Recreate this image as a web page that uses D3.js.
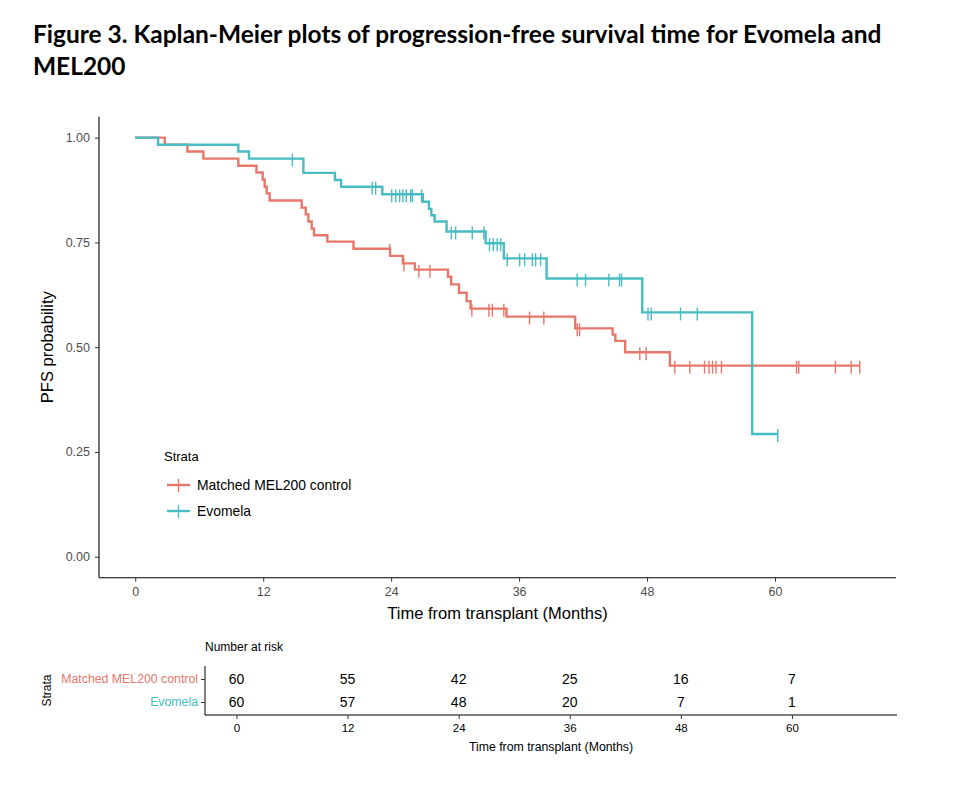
<html>
<head>
<style>
  body { margin: 0; background: #ffffff; }
  svg { display: block; }
  text { font-family: "Liberation Sans", Arial, sans-serif; }
</style>
<script src="https://cdn.jsdelivr.net/npm/d3@7"></script>
</head>
<body>
<svg id="km"></svg>
<script>
// ---- data ----
const strata = ["Matched MEL200 control", "Evomela"];

// Matched MEL200 control: step times (months) and survival after each step
const melTimes = [0, 2.77, 4.9, 6.39, 9.67, 11.37, 11.95, 12.14, 12.33, 12.61, 15.61, 15.99, 16.24, 16.55, 16.77,
  18.02, 20.47, 23.9, 25.1, 26.23, 29.33, 29.63, 30.36, 31.08, 31.45, 34.82, 41.26, 44.77, 45.03, 45.95, 50.14];
const melSurv = [1, 0.983, 0.967, 0.95, 0.933, 0.917, 0.9, 0.883, 0.867, 0.85, 0.833, 0.817, 0.8, 0.783, 0.767,
  0.752, 0.735, 0.718, 0.7, 0.685, 0.668, 0.65, 0.63, 0.61, 0.592, 0.573, 0.545, 0.53, 0.515, 0.488, 0.456];
const melCensor = [23.87, 25.2, 26.6, 27.64, 31.57, 33.17, 33.49, 34.57, 36.98, 38.32, 41.45, 41.67, 47.32, 47.92,
  50.6, 52.01, 53.39, 53.81, 54.14, 54.47, 54.98, 62.02, 62.23, 65.67, 67.14, 67.95];

// Evomela
const evoTimes = [0, 2.14, 9.67, 10.67, 15.77, 18.73, 19.31, 23.17, 26.98, 27.54, 27.77, 28.08, 29.2, 32.86, 34.57,
  38.58, 47.55, 57.86];
const evoSurv = [1, 0.983, 0.967, 0.95, 0.916, 0.899, 0.883, 0.865, 0.847, 0.83, 0.815, 0.8, 0.776, 0.748, 0.712,
  0.664, 0.583, 0.293];
const evoCensor = [14.74, 22.22, 22.55, 24.05, 24.43, 24.8, 25.1, 25.42, 25.83, 25.99, 26.86, 29.64, 30.05, 31.61,
  32.7, 33.23, 33.58, 33.95, 34.27, 34.89, 36.05, 36.52, 37.24, 37.55, 38.02, 41.45, 42.23, 44.42, 45.42, 45.61,
  48.09, 48.39, 51.14, 52.71, 60.26];

const xTicks = [0, 12, 24, 36, 48, 60];
const yTicks = [0, 0.25, 0.5, 0.75, 1];
const riskMel = [60, 55, 42, 25, 16, 7];
const riskEvo = [60, 57, 48, 20, 7, 1];

const colMel = "#E8776B";
const colEvo = "#47BCC2";

// ---- layout ----
const W = 962, H = 810;
const svg = d3.select("#km").attr("width", W).attr("height", H);
svg.append("rect").attr("width", W).attr("height", H).attr("fill", "#fff");

// title
const t1 = svg.append("text").attr("x", 33).attr("y", 43)
  .style("font-family", "Lato, 'Open Sans', sans-serif").style("font-weight", 700)
  .style("font-size", "24px").attr("fill", "#000")
  .text("Figure 3. Kaplan-Meier plots of progression-free survival time for Evomela and");
const fs = 24 * 849 / t1.node().getComputedTextLength();
t1.style("font-size", fs + "px");
svg.append("text").attr("x", 33).attr("y", 75)
  .style("font-family", "Lato, 'Open Sans', sans-serif").style("font-weight", 700)
  .style("font-size", fs + "px").attr("fill", "#000").text("MEL200");

// x domain like ggplot: data range plus 5% each side
const xMax = d3.max(melCensor.concat(evoCensor));
const pad = xMax * 0.05;
const xDom = [-pad, xMax + pad];

const plot = { left: 99, right: 896, top: 116.7, bottom: 577.7 };
const x = d3.scaleLinear().domain(xDom).range([plot.left, plot.right]);
const y = d3.scaleLinear().domain([-0.05, 1.05]).range([plot.bottom, plot.top]);

// axes
const gx = svg.append("g").attr("transform", `translate(0,${plot.bottom})`)
  .call(d3.axisBottom(x).tickValues(xTicks).tickSize(4).tickPadding(5).tickSizeOuter(0));
const gy = svg.append("g").attr("transform", `translate(${plot.left},0)`)
  .call(d3.axisLeft(y).tickValues(yTicks).tickFormat(d3.format(".2f")).tickSize(4).tickPadding(5).tickSizeOuter(0));
[gx, gy].forEach(g => {
  g.select(".domain").attr("stroke", "#000").attr("stroke-width", 1.1);
  g.selectAll(".tick line").attr("stroke", "#333");
  g.selectAll(".tick text").attr("fill", "#4d4d4d").style("font-size", "12.5px");
});
gx.select(".domain").attr("d", `M${plot.left},0H${plot.right}`);
gy.select(".domain").attr("d", `M0,${plot.top}V${plot.bottom}`);

svg.append("text").attr("x", (plot.left + plot.right) / 2).attr("y", 619)
  .attr("text-anchor", "middle").style("font-size", "16.5px").attr("fill", "#000")
  .text("Time from transplant (Months)");
svg.append("text").attr("transform", `translate(53,${y(0.5)}) rotate(-90)`)
  .attr("text-anchor", "middle").style("font-size", "16.5px").attr("fill", "#000")
  .text("PFS probability");

// curves
function survAt(times, surv, t) {
  let s = surv[0];
  for (let i = 0; i < times.length; i++) if (times[i] <= t) s = surv[i];
  return s;
}
const line = d3.line().x(d => x(d[0])).y(d => y(d[1])).curve(d3.curveStepAfter);

function drawCurve(times, surv, censor, col) {
  const pts = times.map((t, i) => [t, surv[i]]);
  pts.push([d3.max(censor.concat(times)), surv[surv.length - 1]]);
  svg.append("path").datum(pts).attr("d", line)
    .attr("fill", "none").attr("stroke", col).attr("stroke-width", 2.4);
  svg.append("g").selectAll("line").data(censor).join("line")
    .attr("x1", d => x(d)).attr("x2", d => x(d))
    .attr("y1", d => y(survAt(times, surv, d)) - 5)
    .attr("y2", d => y(survAt(times, surv, d)) + 8)
    .attr("stroke", col).attr("stroke-width", 1.4);
}
drawCurve(melTimes, melSurv, melCensor, colMel);
drawCurve(evoTimes, evoSurv, evoCensor, colEvo);

// legend
const leg = svg.append("g").attr("transform", "translate(164,0)");
leg.append("text").attr("x", 0).attr("y", 461).style("font-size", "13px").attr("fill", "#000").text("Strata");
[[colMel, 485], [colEvo, 511]].forEach(([c, ly], i) => {
  leg.append("line").attr("x1", 3).attr("x2", 26).attr("y1", ly).attr("y2", ly)
    .attr("stroke", c).attr("stroke-width", 2.4);
  leg.append("line").attr("x1", 14.5).attr("x2", 14.5).attr("y1", ly - 6).attr("y2", ly + 7)
    .attr("stroke", c).attr("stroke-width", 1.4);
  leg.append("text").attr("x", 33).attr("y", ly + 5).style("font-size", "13.9px")
    .attr("fill", "#000").text(strata[i]);
});

// ---- risk table ----
const tab = { left: 205, right: 897, top: 666, bottom: 715 };
const xt = d3.scaleLinear().domain(xDom).range([tab.left, tab.right]);
const yt = d3.scalePoint().domain(strata).range([679, 702]);

svg.append("text").attr("x", tab.left).attr("y", 651).style("font-size", "12px").attr("fill", "#000")
  .text("Number at risk");

const gtx = svg.append("g").attr("transform", `translate(0,${tab.bottom})`)
  .call(d3.axisBottom(xt).tickValues(xTicks).tickSize(4).tickPadding(5).tickSizeOuter(0));
gtx.select(".domain").attr("d", `M${tab.left},0H${tab.right}`).attr("stroke", "#000");
gtx.selectAll(".tick line").attr("stroke", "#333");
gtx.selectAll(".tick text").attr("fill", "#000").style("font-size", "11.5px");

const gty = svg.append("g").attr("transform", `translate(${tab.left},0)`)
  .call(d3.axisLeft(yt).tickSize(4).tickPadding(3).tickSizeOuter(0));
gty.select(".domain").attr("d", `M0,${tab.top}V${tab.bottom}`).attr("stroke", "#000");
gty.selectAll(".tick line").attr("stroke", "#333");
gty.selectAll(".tick text").style("font-size", "12.3px").attr("fill", (d, i) => i === 0 ? colMel : colEvo);

svg.append("text").attr("x", (tab.left + tab.right) / 2).attr("y", 751)
  .attr("text-anchor", "middle").style("font-size", "12.3px").attr("fill", "#000")
  .text("Time from transplant (Months)");
svg.append("text").attr("transform", `translate(51,${(679 + 702) / 2}) rotate(-90)`)
  .attr("text-anchor", "middle").style("font-size", "12px").attr("fill", "#000").text("Strata");

[[riskMel, strata[0]], [riskEvo, strata[1]]].forEach(([vals, s]) => {
  svg.append("g").selectAll("text").data(vals).join("text")
    .attr("x", (d, i) => xt(xTicks[i])).attr("y", yt(s) + 5)
    .attr("text-anchor", "middle").style("font-size", "14px").attr("fill", "#000")
    .text(d => d);
});
</script>
</body>
</html>
